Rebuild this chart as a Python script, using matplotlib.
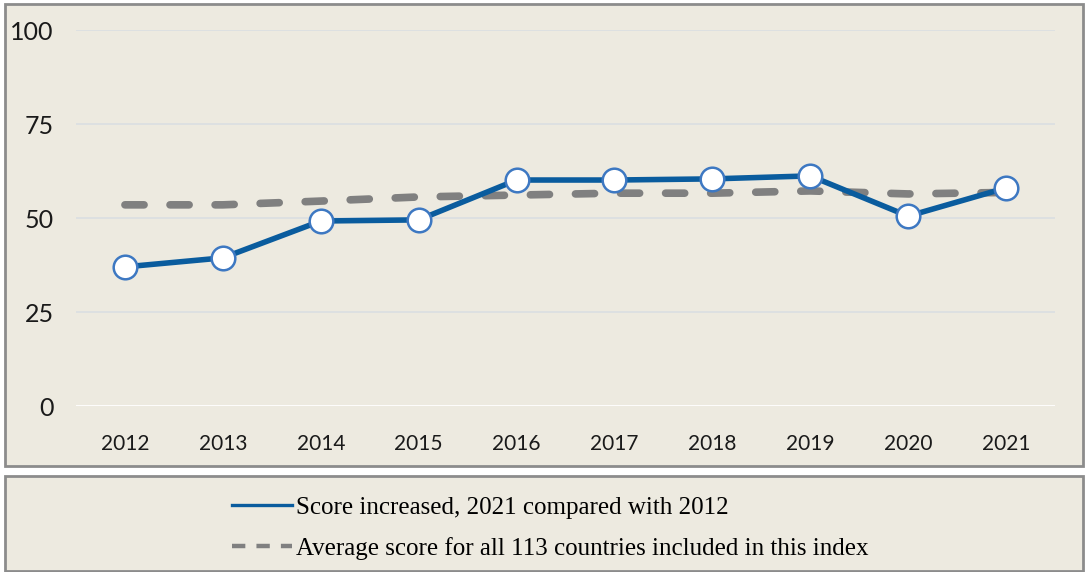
import matplotlib.pyplot as plt
from matplotlib.patches import Rectangle
from matplotlib.lines import Line2D

years = ["2012", "2013", "2014", "2015", "2016", "2017", "2018", "2019", "2020", "2021"]
country_score = [37.0, 39.4, 49.2, 49.5, 60.1, 60.1, 60.4, 61.2, 50.5, 58.0]
average_score = [53.5, 53.5, 54.5, 55.6, 56.1, 56.6, 56.6, 57.2, 56.4, 56.8]
y_ticks = [0, 25, 50, 75, 100]

bg = "#EDEAE0"
border = "#8C8C8C"
blue = "#0A5C9E"
grey = "#808080"

fig = plt.figure(figsize=(10.88, 5.72), dpi=100)
fig.patch.set_facecolor("white")

# two framed panels: chart and legend
fig.patches.append(Rectangle((5/1088, 1-466/572), 1078/1088, 462/572, transform=fig.transFigure,
                             facecolor=bg, edgecolor=border, linewidth=2, zorder=-10))
fig.patches.append(Rectangle((5/1088, 0.002), 1078/1088, 95/572, transform=fig.transFigure,
                             facecolor=bg, edgecolor=border, linewidth=2, zorder=-10))

ax = fig.add_axes([76/1088, 1-406/572, 979/1088, 376/572])
ax.set_facecolor("none")
x = list(range(len(years)))

for t in y_ticks:
    ax.axhline(t, color="white" if t == 0 else "#DCDFE2", linewidth=1.3, zorder=1)

ax.plot(x, average_score, color=grey, linewidth=5.5, dashes=(2.5, 3.4),
        dash_capstyle="round", zorder=2, clip_on=False)
ax.plot(x, country_score, color=blue, linewidth=4, marker="o", markersize=17,
        markerfacecolor="white", markeredgecolor="#3D78C2", markeredgewidth=1.8,
        zorder=3, clip_on=False)

ax.set_xlim(-0.5, len(years) - 0.5)
ax.set_ylim(0, 100)
ax.set_xticks(x)
ax.set_xticklabels(years)
ax.set_yticks(y_ticks)
for s in ax.spines.values():
    s.set_visible(False)
ax.tick_params(length=0)
ax.tick_params(axis="y", pad=16, labelsize=18)
ax.tick_params(axis="x", pad=20, labelsize=15)
for lab in ax.get_xticklabels() + ax.get_yticklabels():
    lab.set_fontfamily(["Lato", "DejaVu Sans"])
    lab.set_color("#1A1A1A")

handles = [Line2D([], [], color=blue, linewidth=2.4),
           Line2D([], [], color=grey, linewidth=3.2, dashes=(3, 2.5))]
labels = ["Score increased, 2021 compared with 2012",
          "Average score for all 113 countries included in this index"]
leg = fig.legend(handles, labels, loc="center left", bbox_to_anchor=(209/1088, 1 - 528/572),
                 frameon=False, handlelength=2.4, handletextpad=0.2, labelspacing=0.72,
                 prop={"family": "Liberation Serif", "size": 18})
leg.set_zorder(5)

fig.savefig("out.png", dpi=100, facecolor=fig.get_facecolor())
